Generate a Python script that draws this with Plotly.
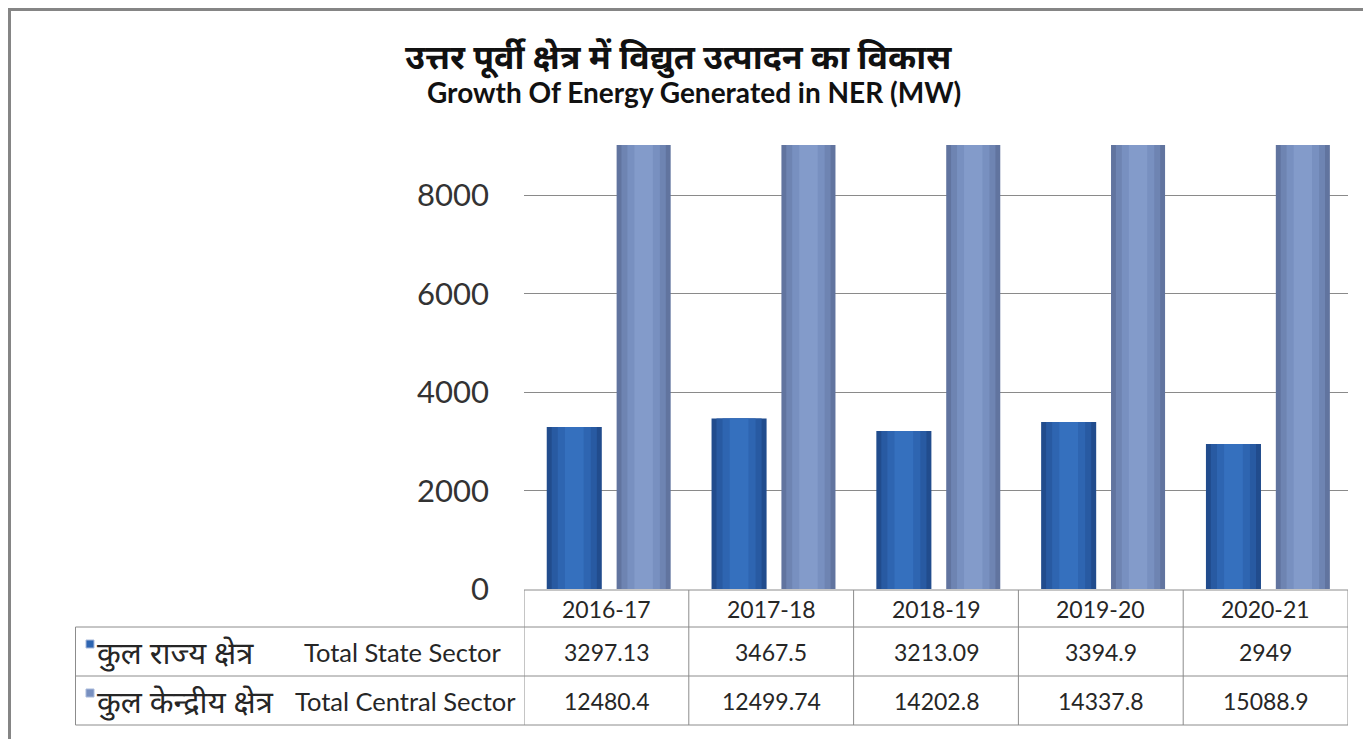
import plotly.graph_objects as go

# ---------------- data ----------------
years = ["2016-17", "2017-18", "2018-19", "2019-20", "2020-21"]
state_sector = [3297.13, 3467.5, 3213.09, 3394.9, 2949]
central_sector = [12480.4, 12499.74, 14202.8, 14337.8, 15088.9]
state_label_hi = "कुल राज्य क्षेत्र"
state_label_en = "Total State Sector"
central_label_hi = "कुल केन्द्रीय क्षेत्र"
central_label_en = "Total Central Sector"
y_ticks = [0, 2000, 4000, 6000, 8000]
title_hi = "उत्तर पूर्वी क्षेत्र में विद्युत उत्पादन का विकास"
title_en = "Growth Of Energy Generated in NER (MW)"

# ---------------- layout geometry ----------------
# the page body adds an 8px margin; work in window pixels and subtract it
OFF = 8
W, H = 1371 - OFF, 739 - OFF
RPL, RPR, RPT, RPB = 524, 1348, 145, 589   # plot area in window pixels
PL, PR, PT, PB = RPL - OFF, RPR - OFF, RPT - OFF, RPB - OFF

def px(x):
    return (x - RPL) / (RPR - RPL)

def py(y):
    return (RPB - y) / (RPB - RPT)

STATE_SHADES = ["#214C8D", "#285AA2", "#2E65B1", "#3570BE"]
CENTRAL_SHADES = ["#61749F", "#6E84B2", "#7890C0", "#839BCA"]
LAYER_FRAC = [1.0, 0.82, 0.6, 0.34]
BORDER = "#8C8C8C"
FONT = "Lato, 'Noto Sans', 'DejaVu Sans', sans-serif"

fig = go.Figure()

def add_series(values, name, base_offset, width, shades):
    for f, c in zip(LAYER_FRAC, shades):
        fig.add_trace(go.Bar(
            x=years, y=values, name=name, showlegend=False,
            width=width * f, offset=base_offset + width * (1 - f) / 2,
            marker=dict(color=c, line=dict(width=0)),
            hoverinfo="x+y+name"))

add_series(state_sector, state_label_en, -0.362, 0.334, STATE_SHADES)
add_series(central_sector, central_label_en, 0.062, 0.328, CENTRAL_SHADES)

shapes = []
annotations = []

# outer frame (runs off the right and bottom edges)
shapes.append(dict(type="rect", xref="paper", yref="paper",
                   x0=px(9.5), x1=px(1420), y0=py(780), y1=py(9.5),
                   line=dict(color="#858585", width=3), layer="below"))

# table geometry
rows_y = [590, 627, 676, 725]
table_left = 75.5
n = len(years)
shapes.append(dict(type="line", xref="x", yref="paper", x0=-0.5, x1=n - 0.5,
                   y0=py(rows_y[0]), y1=py(rows_y[0]), line=dict(color=BORDER, width=1)))
for yy in rows_y[1:]:
    shapes.append(dict(type="line", xref="paper", yref="paper", x0=px(table_left), x1=1,
                       y0=py(yy), y1=py(yy), line=dict(color=BORDER, width=1)))
for i in range(n + 1):
    shapes.append(dict(type="line", xref="x", yref="paper", x0=i - 0.5, x1=i - 0.5,
                       y0=py(rows_y[0]), y1=py(rows_y[3]), line=dict(color=BORDER, width=1)))
shapes.append(dict(type="line", xref="paper", yref="paper", x0=px(table_left), x1=px(table_left),
                   y0=py(rows_y[1]), y1=py(rows_y[3]), line=dict(color=BORDER, width=1)))

cell_font = dict(family=FONT, size=23, color="#262626")
for i, yr in enumerate(years):
    annotations.append(dict(x=i, y=py((rows_y[0] + rows_y[1]) / 2), xref="x", yref="paper",
                            text=yr, showarrow=False, xanchor="center", yanchor="middle", font=cell_font))
    annotations.append(dict(x=i, y=py((rows_y[1] + rows_y[2]) / 2), xref="x", yref="paper",
                            text=str(state_sector[i]), showarrow=False, xanchor="center", yanchor="middle",
                            font=cell_font))
    annotations.append(dict(x=i, y=py((rows_y[2] + rows_y[3]) / 2), xref="x", yref="paper",
                            text=str(central_sector[i]), showarrow=False, xanchor="center", yanchor="middle",
                            font=cell_font))

# row headers with legend keys
for (ry0, ry1), col, hi, en, enx in [((rows_y[1], rows_y[2]), STATE_SHADES[2], state_label_hi, state_label_en, 302),
                                    ((rows_y[2], rows_y[3]), CENTRAL_SHADES[2], central_label_hi, central_label_en, 293)]:
    shapes.append(dict(type="rect", xref="paper", yref="paper",
                       x0=px(86), x1=px(94), y0=py(ry0 + 21), y1=py(ry0 + 13),
                       fillcolor=col, line=dict(color="#A9BADB", width=1)))
    annotations.append(dict(x=px(95), y=py((ry0 + ry1) / 2 + 1), xref="paper", yref="paper",
                            text=hi, showarrow=False, xanchor="left", yanchor="middle",
                            font=dict(family=FONT, size=31, color="#262626")))
    annotations.append(dict(x=px(enx), y=py((ry0 + ry1) / 2), xref="paper", yref="paper",
                            text=en, showarrow=False, xanchor="left", yanchor="middle",
                            font=dict(family=FONT, size=25.5, color="#262626")))

# titles
annotations.append(dict(x=px(678), y=py(57), xref="paper", yref="paper", text="<b>" + title_hi + "</b>",
                        showarrow=False, xanchor="center", yanchor="middle",
                        font=dict(family=FONT, size=34, color="#111111")))
annotations.append(dict(x=px(694), y=py(92), xref="paper", yref="paper", text="<b>" + title_en + "</b>",
                        showarrow=False, xanchor="center", yanchor="middle",
                        font=dict(family=FONT, size=28, color="#111111")))

fig.update_layout(
    width=W, height=H,
    margin=dict(l=PL, r=W - PR, t=PT, b=H - PB, pad=0),
    paper_bgcolor="white", plot_bgcolor="white",
    barmode="overlay",
    showlegend=False,
    shapes=shapes, annotations=annotations,
    xaxis=dict(showticklabels=False, showgrid=False, zeroline=False, showline=False,
               range=[-0.5, n - 0.5], fixedrange=True),
    yaxis=dict(range=[0, 9030], tickvals=y_ticks, showgrid=True, gridcolor="#8A8A8A", gridwidth=1,
               zeroline=False, showline=False, ticks="", ticklabelstandoff=34,
               tickfont=dict(family=FONT, size=31, color="#333333"), fixedrange=True),
    font=dict(family=FONT),
)

fig.write_html("out.html")
